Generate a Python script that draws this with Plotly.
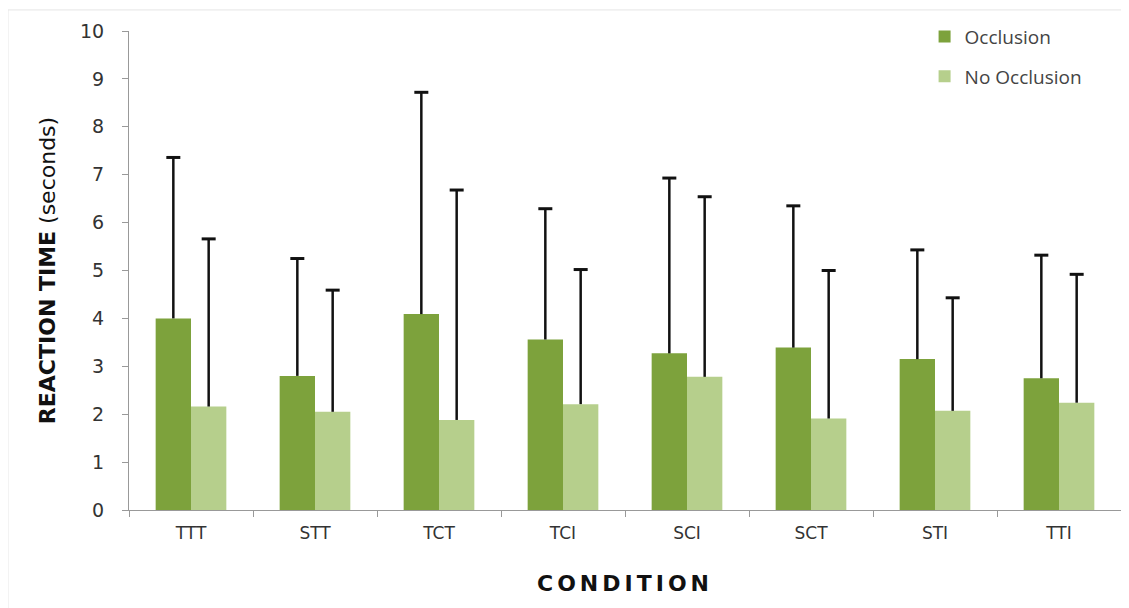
import plotly.graph_objects as go

categories = ["TTT", "STT", "TCT", "TCI", "SCI", "SCT", "STI", "TTI"]
occlusion = [4.0, 2.8, 4.09, 3.56, 3.27, 3.39, 3.15, 2.75]
occlusion_err_top = [7.36, 5.25, 8.72, 6.29, 6.93, 6.35, 5.43, 5.32]
no_occlusion = [2.16, 2.05, 1.88, 2.21, 2.78, 1.91, 2.07, 2.24]
no_occlusion_err_top = [5.66, 4.59, 6.68, 5.02, 6.54, 5.0, 4.43, 4.92]

occ_err = [t - v for t, v in zip(occlusion_err_top, occlusion)]
no_err = [t - v for t, v in zip(no_occlusion_err_top, no_occlusion)]
zeros = [0] * len(categories)

OCC_COLOR = "#7DA23C"
NO_COLOR = "#B6CF8C"
ERR_COLOR = "#111111"

fig = go.Figure()
fig.add_trace(go.Bar(
    x=categories, y=occlusion, name="Occlusion", offsetgroup="occ",
    marker=dict(color=OCC_COLOR, line=dict(width=0)),
    error_y=dict(type="data", array=occ_err, symmetric=False, arrayminus=zeros,
                 color=ERR_COLOR, thickness=2.5, width=0),
    legendgroup="a",
))
fig.add_trace(go.Bar(
    x=categories, y=no_occlusion, name="No Occlusion", offsetgroup="no",
    marker=dict(color=NO_COLOR, line=dict(width=0)),
    error_y=dict(type="data", array=no_err, symmetric=False, arrayminus=zeros,
                 color=ERR_COLOR, thickness=2.5, width=0),
    legendgroup="b",
))
# caps at the top of the error bars only
fig.add_trace(go.Scatter(
    x=categories, y=occlusion_err_top, mode="markers", offsetgroup="occ",
    marker=dict(symbol="line-ew", size=10, line=dict(width=3, color=ERR_COLOR)),
    showlegend=False, hoverinfo="skip",
))
fig.add_trace(go.Scatter(
    x=categories, y=no_occlusion_err_top, mode="markers", offsetgroup="no",
    marker=dict(symbol="line-ew", size=10, line=dict(width=3, color=ERR_COLOR)),
    showlegend=False, hoverinfo="skip",
))

fig.update_layout(
    width=1121, height=600,
    margin=dict(l=121, r=8, t=23, b=98, autoexpand=False),
    paper_bgcolor="white", plot_bgcolor="white",
    barmode="group", bargap=0.43, bargroupgap=0,
    scattermode="group", scattergap=0.43,
    font=dict(family="DejaVu Sans", color="#333333"),
    showlegend=True,
    legend=dict(x=0.802, y=1.028, xanchor="left", yanchor="top",
                font=dict(family="Open Sans", size=19, color="#444444"),
                tracegroupgap=12, bgcolor="rgba(0,0,0,0)", itemwidth=30),
    xaxis=dict(
        automargin=False,
        showline=True, linecolor="#999999", linewidth=1,
        ticks="outside", tickson="boundaries", ticklen=6, tickcolor="#999999",
        ticklabelstandoff=8,
        tickfont=dict(family="DejaVu Sans", size=17, color="#333333"),
        title=dict(text='<b><span style="letter-spacing:4px">CONDITION</span></b>', standoff=33,
                   font=dict(family="DejaVu Sans", size=22, color="#111111")),
        showgrid=False,
    ),
    yaxis=dict(
        automargin=False,
        range=[0, 10], dtick=1,
        showline=True, linecolor="#999999", linewidth=1,
        ticks="outside", ticklen=6, tickcolor="#999999", ticklabelstandoff=14,
        tickfont=dict(family="DejaVu Sans", size=19, color="#333333"),
        title=dict(text="<b>REACTION TIME</b> (seconds)", standoff=18,
                   font=dict(family="DejaVu Sans", size=22, color="#111111")),
        showgrid=False, zeroline=False,
    ),
)

fig.add_shape(type="rect", xref="paper", yref="paper",
              x0=-0.122, x1=1.02, y0=-0.3, y1=1.044,
              line=dict(color="#e6e6e6", width=1), layer="below")

fig.write_html("out.html")
